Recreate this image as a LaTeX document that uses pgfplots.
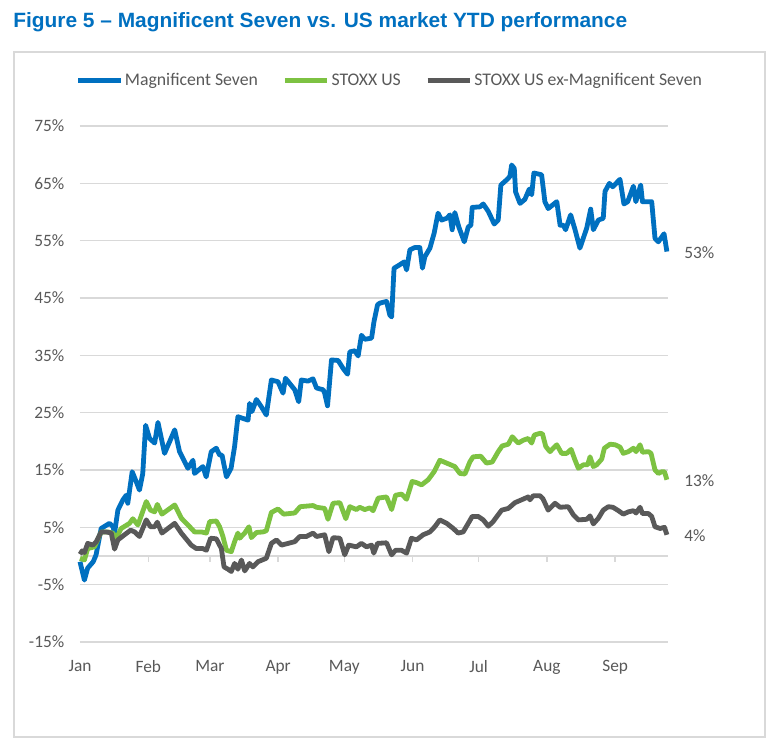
\documentclass[border=0pt]{standalone}
\usepackage{fontspec}
\setmainfont{Carlito}
\newfontfamily\titlefont{Liberation Sans}
\usepackage{graphicx}
\usepackage{pgfplots}
\pgfplotsset{compat=1.18}
\definecolor{mblue}{HTML}{0070C0}
\definecolor{mgreen}{HTML}{7DC242}
\definecolor{mgray}{HTML}{595959}
\definecolor{gridc}{HTML}{D9D9D9}
\definecolor{txt}{HTML}{595959}
\begin{document}
\begin{tikzpicture}
\useasboundingbox (0pt,0pt) rectangle (582pt,557.25pt);
\fill[white] (0pt,0pt) rectangle (582pt,557.25pt);
\draw[gridc, line width=1.1pt] (10.5pt,4.5pt) rectangle (573.75pt,518.25pt);
\node[anchor=base west, inner sep=0, text=mblue] at (9.75pt,536.25pt) {\resizebox{460.5pt}{\height}{\titlefont\bfseries\fontsize{15.5}{18}\selectfont Figure 5 – Magnificent Seven vs. US market YTD performance}};

\begin{axis}[at={(60pt,75.75pt)}, anchor=south west, scale only axis, width=441pt, height=387pt,
  xmin=0, xmax=267, ymin=-15, ymax=75,
  axis line style={draw=none}, major tick length=0pt,
  ytick={-15,-5,5,15,25,35,45,55,65,75},
  yticklabels={-15\%,-5\%,5\%,15\%,25\%,35\%,45\%,55\%,65\%,75\%},
  xtick={0,31,59,90,120,151,181,212,243},
  xticklabels={Jan,Feb,Mar,Apr,May,Jun,Jul,Aug,Sep},
  ymajorgrids, grid style={gridc, line width=1.1pt},
  ticklabel style={font=\fontsize{13}{15}\selectfont, text=txt, inner sep=0pt},
  yticklabel style={anchor=east, xshift=-11.6pt},
  xticklabel style={anchor=north, yshift=-13.5pt},
  legend style={at={(axis description cs:-0.008,1.088)}, anchor=west, draw=none, fill=none,
    inner sep=0pt, font=\fontsize{13.3}{15}\selectfont, text=txt, legend columns=3,
    nodes={inner sep=1.2pt},
    /tikz/every even column/.append style={column sep=17pt}},
  legend image code/.code={\draw[#1, line width=3.8pt] (0pt,0pt) -- (32pt,0pt);},
  clip=false]

% zero line and month ticks
\draw[gridc, line width=1.1pt] (axis cs:0,0) -- (axis cs:267,0);
\pgfplotsinvokeforeach{31,59,90,120,151,181,212,243}{
  \draw[gridc, line width=1.1pt] (axis cs:#1,0) -- ++(0pt,-4.5pt);
}

\addplot[mblue, line width=3.6pt, line join=round, mark=none] coordinates {
(0,-1.0) (2,-4.2) (3.5,-2.1) (6,-1.0) (7.3,0.2) (9.6,4.8) (13.4,5.7) (15,5.1) (15.7,4.0) (17.2,8.0) (19.5,9.8) (21,10.6) (21.7,9.2) (23.7,14.7) (25.5,13.0) (27,11.5) (28.5,14.4) (29.8,22.8) (31.6,20.5) (33.9,19.7) (35.4,23.3) (38.4,17.9) (43,22.0) (45.2,18.2) (49,15.3) (51.3,16.7) (52,14.4) (55.8,15.6) (57.3,13.8) (59.6,18.2) (61.9,18.8) (63.4,17.6) (64.5,17.6) (66.5,13.8) (68.6,15.3) (70.2,19.1) (71.7,24.3) (74,24.0) (76.3,23.7) (77,26.6) (78.1,25.2) (80.1,27.3) (82.4,26.0) (84.6,24.6) (86.9,30.7) (89.9,30.4) (92.2,28.4) (93.3,31.0) (95.2,30.1) (97.5,29.0) (99.3,26.9) (100.5,30.7) (103.5,30.5) (105.8,30.9) (107.4,29.3) (110.4,29.0) (111.1,28.4) (112.4,26.2) (114.2,34.2) (117.2,34.1) (119.5,32.7) (121.5,31.7) (122.5,35.6) (124.8,35.8) (126.3,34.9) (127.8,38.5) (129.3,37.8) (132.4,38.0) (133.5,40.9) (135.1,43.8) (136.1,44.1) (139.2,44.4) (140.7,42.0) (141.5,41.7) (142.6,50.2) (145.2,50.8) (147.2,51.3) (148.3,49.9) (149.8,53.4) (152,53.8) (154.3,53.8) (155.5,50.2) (156.6,52.2) (158.9,53.7) (160.8,56.3) (162.6,59.8) (164.2,58.6) (166.5,58.9) (168,59.5) (169,56.9) (170.2,59.9) (172,57.4) (174.5,54.8) (176.3,57.4) (177.5,57.7) (178.1,60.8) (181.6,60.9) (183.1,61.4) (185.4,60.1) (188.1,57.9) (189.9,58.6) (191.1,64.7) (193.7,65.6) (195.2,66.2) (196,68.2) (197.2,67.6) (197.8,63.5) (199.8,61.5) (202,62.2) (204,64.0) (205.1,63.0) (206.1,66.8) (209.6,66.5) (211.1,61.8) (212.6,60.6) (216.5,61.8) (218,57.7) (219.5,57.7) (220.5,56.9) (222.8,59.5) (224.8,56.9) (227,53.7) (230.1,57.2) (231.9,60.5) (233.1,56.9) (235.4,58.6) (237.6,58.9) (238.4,63.6) (240.4,65.0) (241.9,64.4) (245.2,65.7) (247,61.4) (248.7,61.8) (251.3,64.5) (252.4,61.8) (254.6,64.7) (255.4,61.8) (259.6,61.8) (261.1,55.4) (262.6,54.8) (265.2,56.2) (266.5,53.1)
};
\addlegendentry{Magnificent Seven}

\addplot[mgreen, line width=3.6pt, line join=round, mark=none] coordinates {
(0,-0.4) (2,-0.7) (3.5,1.3) (6.6,1.6) (9.6,4.2) (12.6,4.2) (14.9,4.0) (16.5,3.1) (18.7,4.8) (22.5,5.7) (24,6.5) (26.3,5.4) (30.1,9.5) (32,8.0) (33.9,7.7) (35.1,9.0) (37.2,7.3) (43,8.9) (46,6.6) (49.8,5.1) (52,4.2) (55.1,4.2) (57.4,4.0) (58.9,6.0) (61.9,6.1) (63.4,5.1) (64.9,3.4) (66.5,1.0) (68.7,0.75) (70.2,2.5) (71.7,4.0) (72.5,3.1) (74.8,4.0) (76.7,5.1) (77.8,3.2) (80.1,4.1) (83.1,4.2) (84.6,4.4) (86.9,7.6) (89.9,8.2) (92.5,7.3) (97.5,7.5) (100,8.6) (105.8,8.8) (107.4,8.5) (111.1,8.3) (112.6,6.4) (114.9,9.2) (118,9.3) (120.7,6.5) (122.5,8.6) (125.5,8.1) (127,8.5) (129.3,8.1) (131.6,8.4) (133.1,7.9) (135.4,10.1) (139.2,10.3) (141.5,8.1) (143.3,10.6) (146,10.8) (148.3,9.9) (150.8,13.0) (152.8,12.8) (155.1,12.4) (158.1,13.3) (160.8,14.7) (163.4,16.7) (166.5,16.2) (170.2,15.6) (172.5,14.4) (174.8,14.3) (177,16.4) (178.5,17.3) (182,17.4) (184.6,16.2) (187.2,16.4) (189.9,18.2) (191.7,19.2) (194.5,19.5) (196.3,20.8) (197.5,20.3) (199,19.7) (201.3,20.2) (203.5,20.5) (205.1,19.7) (206.3,21.1) (208.9,21.4) (210,21.3) (211.5,19.1) (213.4,18.2) (216.5,19.4) (218.7,17.9) (221,17.9) (223,18.6) (224.8,16.7) (226.3,15.3) (228.5,15.9) (230.5,15.9) (231.6,17.3) (233.1,15.6) (234.6,15.9) (236.9,16.9) (238.1,18.8) (240.7,19.5) (243,19.4) (245.2,19.0) (246.7,17.9) (249,18.2) (251.3,18.8) (252.5,18.2) (254.3,19.4) (255.4,18.1) (258.1,18.2) (259.3,17.9) (261.1,15.0) (262.6,14.4) (264.2,14.7) (265.4,14.7) (266.5,13.3)
};
\addlegendentry{STOXX US}

\addplot[mgray, line width=3.6pt, line join=round, mark=none] coordinates {
(0,0.3) (1,0.9) (2,0.6) (3.5,2.2) (5.8,1.9) (7.4,2.5) (9.6,4.2) (11.9,4.2) (14.2,4.0) (15.7,1.2) (17.2,2.8) (20.2,3.7) (23,4.5) (24.8,4.2) (27,3.4) (30.1,6.3) (32,5.1) (33.9,5.1) (35.1,5.9) (37.2,4.0) (43,5.7) (46,4.0) (50.5,1.9) (52.8,1.3) (55.8,1.3) (57.4,1.0) (59.3,3.1) (61.9,3.0) (64.2,1.3) (65.4,-1.9) (67.2,-2.3) (68.7,-2.7) (70.2,-1.3) (71.7,-2.3) (73.3,-0.7) (74.8,-2.6) (77,-1.3) (78.5,-1.9) (80.8,-1.0) (84.6,-0.4) (86.9,2.2) (89.2,2.8) (91.5,1.9) (97.5,2.5) (99.8,3.4) (102.8,3.4) (105.8,4.0) (107.4,3.4) (111.1,3.7) (113,0.75) (114.9,3.2) (118,3.1) (120.2,0.2) (122,1.9) (125.5,1.6) (127.8,2.2) (130.1,1.6) (132.4,1.9) (133.4,0.5) (135.1,2.2) (139.2,2.3) (141.5,0.2) (143.3,1.0) (146,1.0) (148.3,0.5) (150.5,3.1) (152.8,2.8) (155.8,3.7) (158.9,4.2) (161.1,5.1) (163.4,6.3) (166.5,5.7) (169.5,4.8) (171.7,4.0) (174,4.2) (176.3,5.7) (178.1,6.9) (180.8,6.9) (183.1,6.3) (185.4,5.2) (187.6,6.0) (189.9,7.2) (191.5,8.0) (194.5,8.3) (197.5,9.3) (200.5,9.8) (203.5,10.3) (204.3,9.8) (205.8,10.5) (208.9,10.5) (210.2,10.0) (212.6,8.0) (215.7,9.2) (218,8.5) (221.7,8.6) (224,7.2) (226.3,6.3) (230.1,6.4) (231.6,7.0) (233.1,5.6) (235.4,6.6) (237.6,8.0) (239.9,8.6) (242,8.5) (244.5,7.9) (246.7,7.3) (249,7.7) (251.3,7.9) (252.5,7.5) (254.3,8.5) (255.4,7.4) (258.1,7.4) (259.6,6.9) (261.1,5.1) (263.4,4.8) (265.4,5.0) (266.5,3.7)
};
\addlegendentry{STOXX US ex-Magnificent Seven}

\node[anchor=west, inner sep=0pt, text=txt, font=\fontsize{13}{15}\selectfont, xshift=12pt] at (axis cs:267,52.9) {53\%};
\node[anchor=west, inner sep=0pt, text=txt, font=\fontsize{13}{15}\selectfont, xshift=12pt] at (axis cs:267,13.1) {13\%};
\node[anchor=west, inner sep=0pt, text=txt, font=\fontsize{13}{15}\selectfont, xshift=12pt] at (axis cs:267,3.5) {4\%};
\end{axis}
\end{tikzpicture}
\end{document}
